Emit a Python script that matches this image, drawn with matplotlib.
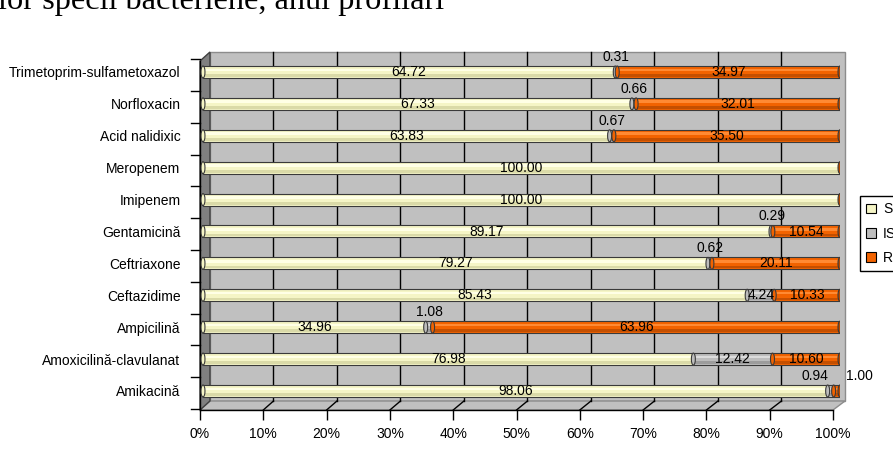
import matplotlib
matplotlib.use("Agg")
import matplotlib.pyplot as plt
from matplotlib.patches import Polygon, Ellipse, Patch

plt.rcParams['font.family'] = ['Liberation Sans', 'DejaVu Sans']
plt.rcParams['font.size'] = 10

# Antibiotics, bottom to top
categories = ["Amikacină", "Amoxicilină-clavulanat", "Ampicilină", "Ceftazidime",
              "Ceftriaxone", "Gentamicină", "Imipenem", "Meropenem",
              "Acid nalidixic", "Norfloxacin", "Trimetoprim-sulfametoxazol"]
sens = [98.06, 76.98, 34.96, 85.43, 79.27, 89.17, 100.00, 100.00, 63.83, 67.33, 64.72]
interm = [0.94, 12.42, 1.08, 4.24, 0.62, 0.29, 0.0, 0.0, 0.67, 0.66, 0.31]
resist = [1.00, 10.60, 63.96, 10.33, 20.11, 10.54, 0.0, 0.0, 35.50, 32.01, 34.97]
series_names = ["S", "IS", "R"]
tick_labels = ["0%", "10%", "20%", "30%", "40%", "50%", "60%", "70%", "80%", "90%", "100%"]

W, H = 893, 457
fig = plt.figure(figsize=(W / 100, H / 100), dpi=100)

# axes spans the bar run (0..100) horizontally
x0_px, x1_px = 200, 840
row0_py, row_step = 391, 31.9
ax_bottom_py, ax_top_py = 410, 40
ax = fig.add_axes([x0_px / W, 1 - ax_bottom_py / H, (x1_px - x0_px) / W,
                   (ax_bottom_py - ax_top_py) / H])
ax.set_xlim(0, 100)
ax.set_ylim((row0_py - ax_bottom_py) / row_step, (row0_py - ax_top_py) / row_step)
for s in ax.spines.values():
    s.set_visible(False)
ax.patch.set_visible(False)

def dx(px):
    return (px - x0_px) / (x1_px - x0_px) * 100

def dy(py):
    return (row0_py - py) / row_step

# 3-D box: back wall, floor, left wall
front_l, front_r, back_l, back_r = 197, 833, 207, 845
back_top, back_bot, front_bot = 52, 401, 410
ax.add_patch(Polygon([(dx(back_l), dy(back_bot)), (dx(back_r), dy(back_bot)),
                      (dx(back_r), dy(back_top)), (dx(back_l), dy(back_top))],
                     closed=True, facecolor="#C0C0C0", edgecolor="#8C8C8C",
                     lw=1.0, clip_on=False, zorder=0))
ax.add_patch(Polygon([(dx(front_l), dy(front_bot)), (dx(back_l), dy(back_bot)),
                      (dx(back_r), dy(back_bot)), (dx(front_r), dy(front_bot))],
                     closed=True, facecolor="#C0C0C0", edgecolor="#8C8C8C",
                     lw=1.0, clip_on=False, zorder=0))
ax.add_patch(Polygon([(dx(front_l), dy(front_bot)), (dx(front_l), dy(back_top + 9)),
                      (dx(back_l), dy(back_top)), (dx(back_l), dy(back_bot))],
                     closed=True, facecolor="#808080", edgecolor="#404040",
                     lw=1.0, clip_on=False, zorder=0.5))

# gridlines on the back wall and the floor
for k in range(1, 10):
    bx = back_l + (back_r - back_l) * k / 10
    fx = front_l + (front_r - front_l) * k / 10
    ax.plot([dx(bx), dx(bx)], [dy(back_bot), dy(back_top)], color="black", lw=1.0,
            clip_on=False, zorder=0.3)
    ax.plot([dx(fx), dx(bx)], [dy(front_bot), dy(back_bot)], color="black", lw=1.0,
            clip_on=False, zorder=0.3)

# axis lines
ax.plot([dx(front_l), dx(front_r)], [dy(front_bot), dy(front_bot)], color="black",
        lw=1.0, clip_on=False, zorder=1)
ax.plot([dx(front_l), dx(front_l)], [dy(front_bot), dy(back_top + 9)], color="black",
        lw=1.0, clip_on=False, zorder=1)

# x ticks along the front edge
xt = [dx(front_l + (front_r - front_l) * k / 10) for k in range(11)]
ax.set_xticks(xt, tick_labels)
ax.tick_params(axis="x", length=7, width=1, direction="out", pad=5, labelsize=10)

# y category labels and boundary ticks
ys = list(range(len(categories)))
ax.set_yticks(ys, categories)
ax.tick_params(axis="y", length=0, pad=14, labelsize=10)
for j in range(len(categories) + 1):
    yb = dy(409 - j * 31.8)
    ax.plot([dx(188), dx(front_l)], [yb, yb], color="black", lw=1.0, clip_on=False,
            zorder=1)

# cylinder bars
bar_h = 12 / row_step
cap_w = dx(x0_px + 4) - dx(x0_px)
colors = {"S": ("#F5F5C6", "#FFFFE6", "#DADAA8"),
          "IS": ("#BDBDBD", "#DCDCDC", "#9C9C9C"),
          "R": ("#F26300", "#FF8A33", "#C44F00")}
edge = "#3A3A3A"

for i in ys:
    vals = [sens[i], interm[i], resist[i]]
    left = 0.0
    for name, v in zip(series_names, vals):
        if v <= 0:
            continue
        base, light, dark = colors[name]
        ax.barh(i, v, left=left, height=bar_h, color=base, edgecolor=edge, lw=0.8,
                zorder=2)
        ax.barh(i - bar_h * 0.30, v, left=left, height=bar_h * 0.22, color=dark,
                lw=0, zorder=2.1)
        ax.barh(i + bar_h * 0.18, v, left=left, height=bar_h * 0.22, color=light,
                lw=0, zorder=2.1)
        ax.add_patch(Ellipse((left, i), cap_w, bar_h, facecolor=base, edgecolor=edge,
                             lw=0.8, zorder=2.2))
        left += v
    ax.add_patch(Ellipse((100, i), cap_w, bar_h, facecolor="#B84A00", edgecolor=edge,
                         lw=0.8, zorder=2.3))

# value labels: wide segments inside, narrow ones above the bar
above = 15 / row_step
for i in ys:
    vals = [sens[i], interm[i], resist[i]]
    r_outside = 0 < resist[i] < 2
    left = 0.0
    for name, v in zip(series_names, vals):
        if v > 0:
            txt = f"{v:.2f}"
            if v >= 2:
                ax.text(left + v / 2, i, txt, ha="center", va="center", fontsize=10,
                        zorder=4)
            elif name == "R":
                ax.text(dx(846), i + above, txt, ha="left", va="center", fontsize=10,
                        zorder=4)
            else:
                xc = left + v / 2
                if r_outside:
                    xc -= dx(x0_px + 16) - dx(x0_px)
                ax.text(xc, i + above, txt, ha="center", va="center",
                        fontsize=10, zorder=4)
        left += v

# legend, partly running off the right edge
handles = [Patch(facecolor=colors[n][0] if n != "R" else "#F26300",
                 edgecolor="black", lw=0.8) for n in series_names]
fig.legend(handles, series_names, loc="upper left",
           bbox_to_anchor=(860 / W, 1 - 274 / H, 120 / W, 78 / H), mode="expand",
           fancybox=False, framealpha=1, edgecolor="black", fontsize=10,
           handlelength=0.7, handleheight=0.7, handletextpad=0.5, labelspacing=0.75,
           borderpad=0.45, borderaxespad=0)

# heading line, running off the top of the image
fig.text(-2 / W, 1 - 9.5 / H, "lor specii bacteriene, anul profilări",
         family=["Liberation Serif", "DejaVu Serif"], fontsize=23.3, va="baseline",
         ha="left")

fig.savefig("out.png", dpi=100)
